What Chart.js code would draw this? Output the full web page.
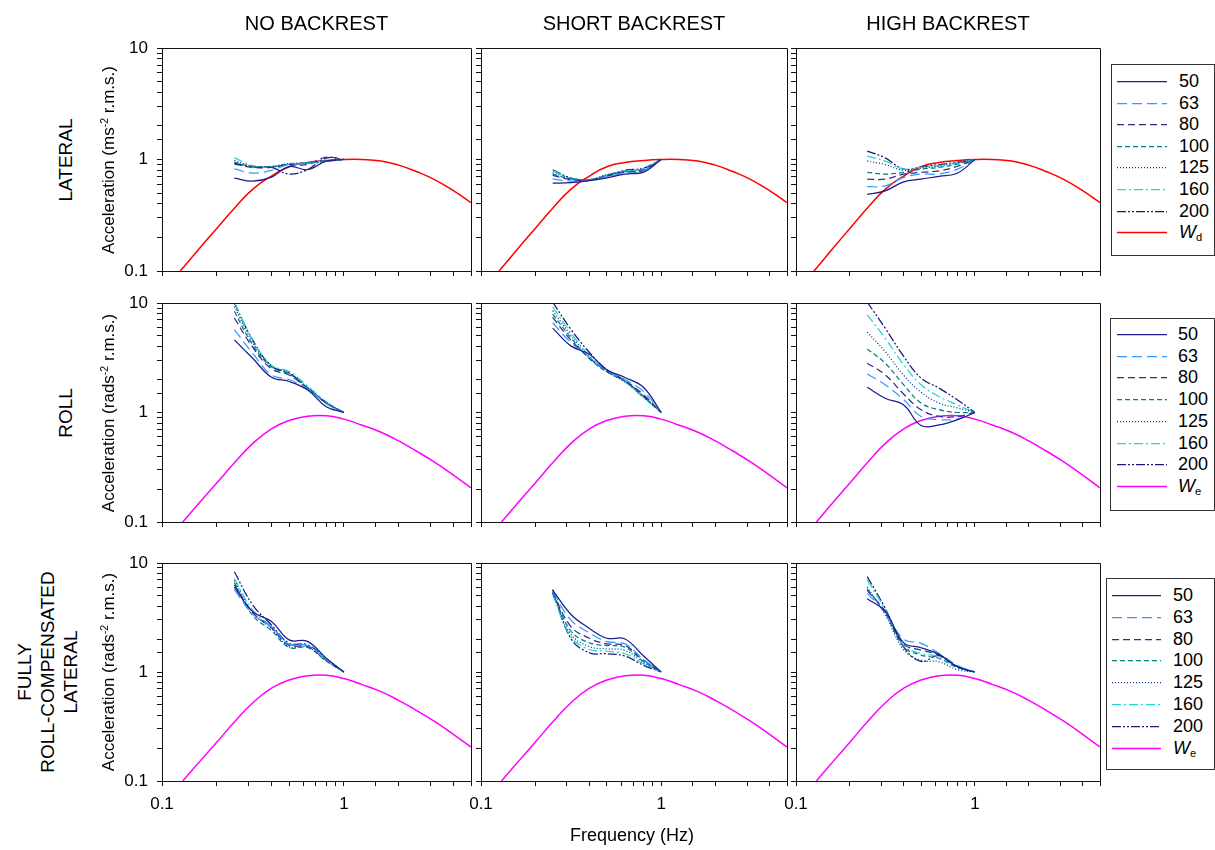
<!DOCTYPE html>
<html>
<head>
<meta charset="utf-8">
<script src="https://cdn.jsdelivr.net/npm/chart.js@4.4.1/dist/chart.umd.min.js"></script>
<style>
  body { margin: 0; background: #fff; font-family: "Liberation Sans", Arial, sans-serif; }
  #fig { position: relative; width: 1215px; height: 850px; overflow: hidden; }
  canvas { position: absolute; }
  .t { position: absolute; white-space: nowrap; color: #000; line-height: 1; }
  .c { transform: translate(-50%, -50%); text-align: center; }
  .rot { transform: translate(-50%, -50%) rotate(-90deg); text-align: center; }
  .leg { position: absolute; border: 1px solid #333; background: #fff; }
  sup { font-size: 62%; vertical-align: 0.55em; line-height: 0; }
  sub { font-size: 62%; vertical-align: -0.25em; line-height: 0; }
</style>
</head>
<body>
<div id="fig"></div>
<script>
// measured frequencies (Hz), velocities = legend entries
const freq = [0.25, 0.315, 0.4, 0.5, 0.63, 0.8, 1.0];
const velocities = ["50", "63", "80", "100", "125", "160", "200"];

// frequency weightings
const wdFreq = [0.126, 0.16, 0.2, 0.25, 0.315, 0.4, 0.5, 0.63, 0.8, 1, 1.25, 1.6, 2, 2.5, 3.15, 4, 5];
const wdValues = [0.1, 0.158, 0.241, 0.366, 0.54, 0.71, 0.86, 0.94, 0.98, 1.0, 1.0, 0.97, 0.89, 0.78, 0.66, 0.525, 0.41];
const weFreq = [0.13, 0.16, 0.2, 0.25, 0.315, 0.4, 0.5, 0.63, 0.8, 1, 1.25, 1.6, 2, 2.5, 3.15, 4, 5];
const weValues = [0.1, 0.149, 0.227, 0.347, 0.52, 0.71, 0.845, 0.925, 0.935, 0.87, 0.77, 0.66, 0.55, 0.445, 0.352, 0.268, 0.205];

const xTickLabels = [0.1, 1];
const yTickLabels = [0.1, 1, 10];
const columnTitles = ["NO BACKREST", "SHORT BACKREST", "HIGH BACKREST"];

// one row per velocity (50 ... 200), one value per frequency
const lateralNone = [
  [0.68, 0.64, 0.695, 0.865, 0.81, 0.966, 1.0],
  [0.825, 0.755, 0.80, 0.90, 0.92, 0.96, 1.0],
  [0.91, 0.85, 0.85, 0.90, 0.90, 1.05, 1.0],
  [0.95, 0.86, 0.86, 0.91, 0.93, 0.97, 1.0],
  [0.98, 0.87, 0.87, 0.92, 0.93, 0.96, 1.0],
  [1.035, 0.88, 0.86, 0.91, 0.94, 0.97, 1.0],
  [0.93, 0.86, 0.85, 0.74, 0.81, 1.03, 1.0]
];
const lateralShort = [
  [0.614, 0.62, 0.645, 0.685, 0.74, 0.77, 1.0],
  [0.67, 0.64, 0.65, 0.70, 0.76, 0.79, 1.0],
  [0.72, 0.66, 0.65, 0.71, 0.77, 0.80, 1.0],
  [0.74, 0.67, 0.655, 0.72, 0.78, 0.81, 1.0],
  [0.76, 0.675, 0.66, 0.73, 0.78, 0.82, 1.0],
  [0.79, 0.68, 0.66, 0.73, 0.79, 0.83, 1.0],
  [0.81, 0.685, 0.655, 0.72, 0.80, 0.84, 1.0]
];
const lateralHigh = [
  [0.487, 0.523, 0.63, 0.667, 0.705, 0.757, 1.0],
  [0.57, 0.58, 0.69, 0.74, 0.74, 0.82, 1.0],
  [0.667, 0.667, 0.74, 0.767, 0.79, 0.87, 1.0],
  [0.767, 0.74, 0.767, 0.82, 0.85, 0.91, 1.0],
  [0.97, 0.90, 0.80, 0.835, 0.87, 0.93, 1.0],
  [1.07, 0.966, 0.82, 0.85, 0.885, 0.94, 1.0],
  [1.19, 1.035, 0.82, 0.86, 0.90, 0.946, 1.0]
];
const rollNone = [
  [4.6, 3.13, 2.1, 1.92, 1.61, 1.13, 1.0],
  [5.7, 3.48, 2.2, 2.0, 1.65, 1.2, 1.0],
  [7.3, 3.95, 2.5, 2.2, 1.66, 1.22, 1.0],
  [8.4, 4.15, 2.6, 2.25, 1.68, 1.23, 1.0],
  [9.3, 4.35, 2.65, 2.3, 1.7, 1.24, 1.0],
  [10.2, 4.6, 2.7, 2.37, 1.75, 1.25, 1.0],
  [10.0, 4.6, 2.65, 2.3, 1.68, 1.22, 1.0]
];
const rollShort = [
  [5.9, 4.06, 3.4, 2.45, 2.09, 1.69, 1.0],
  [6.6, 4.36, 3.2, 2.4, 2.0, 1.55, 1.0],
  [7.4, 4.6, 3.15, 2.38, 1.95, 1.45, 1.0],
  [7.9, 4.84, 3.1, 2.35, 1.92, 1.40, 1.0],
  [8.5, 5.1, 3.2, 2.35, 1.9, 1.38, 1.0],
  [9.2, 5.37, 3.3, 2.4, 1.92, 1.36, 1.0],
  [10.2, 5.77, 3.53, 2.45, 1.95, 1.4, 1.0]
];
const rollHigh = [
  [1.70, 1.35, 1.17, 0.76, 0.77, 0.86, 1.0],
  [2.25, 1.79, 1.31, 0.92, 0.86, 0.875, 1.0],
  [2.82, 2.21, 1.47, 1.06, 0.92, 0.92, 1.0],
  [3.81, 2.82, 1.79, 1.22, 1.06, 1.0, 1.0],
  [5.42, 3.6, 2.18, 1.53, 1.22, 1.10, 1.0],
  [7.8, 4.77, 2.73, 1.79, 1.40, 1.17, 1.0],
  [10.2, 5.89, 3.25, 2.06, 1.67, 1.30, 1.0]
];
const compNone = [
  [6.0, 3.59, 2.9, 1.97, 1.91, 1.34, 1.0],
  [5.7, 3.4, 2.6, 1.8, 1.75, 1.3, 1.0],
  [6.3, 3.5, 2.55, 1.75, 1.72, 1.28, 1.0],
  [6.6, 3.3, 2.4, 1.68, 1.68, 1.26, 1.0],
  [6.9, 3.5, 2.5, 1.7, 1.70, 1.27, 1.0],
  [7.2, 3.7, 2.6, 1.8, 1.75, 1.3, 1.0],
  [8.3, 4.13, 2.7, 1.84, 1.78, 1.32, 1.0]
];
const compShort = [
  [5.64, 3.39, 2.51, 2.04, 2.01, 1.40, 1.0],
  [5.49, 3.01, 2.28, 1.90, 1.81, 1.30, 1.0],
  [5.41, 2.62, 2.04, 1.81, 1.75, 1.28, 1.0],
  [5.34, 2.39, 1.85, 1.75, 1.69, 1.25, 1.0],
  [5.27, 2.23, 1.71, 1.63, 1.58, 1.22, 1.0],
  [5.15, 2.12, 1.61, 1.55, 1.47, 1.19, 1.0],
  [5.72, 2.04, 1.50, 1.47, 1.40, 1.15, 1.0]
];
const compHigh = [
  [4.7, 3.59, 1.85, 1.67, 1.45, 1.12, 1.0],
  [5.3, 3.5, 2.0, 1.83, 1.48, 1.15, 1.0],
  [5.6, 3.6, 1.8, 1.59, 1.43, 1.12, 1.0],
  [5.8, 3.45, 1.7, 1.43, 1.33, 1.10, 1.0],
  [6.0, 3.35, 1.6, 1.28, 1.24, 1.05, 1.0],
  [7.0, 3.75, 1.75, 1.48, 1.38, 1.12, 1.0],
  [7.5, 3.85, 1.70, 1.25, 1.41, 1.10, 1.0]
];

// line styles per velocity
const seriesStyles = [
  { color: "#1c1c8c", dash: [] },
  { color: "#3399ff", dash: [10, 5] },
  { color: "#2e2e90", dash: [7, 4] },
  { color: "#008080", dash: [5, 3] },
  { color: "#003399", dash: [1, 2] },
  { color: "#22d6d6", dash: [9, 3, 2, 3] },
  { color: "#1a1a7a", dash: [9, 2, 2, 2, 2, 2] }
];

const rows = [
  { panels: [lateralNone, lateralShort, lateralHigh], wf: wdFreq, w: wdValues, wColor: "#ff0000", wSub: "d",
    yTitle: "Acceleration (ms<sup>-2</sup> r.m.s.)", label: "LATERAL" },
  { panels: [rollNone, rollShort, rollHigh], wf: weFreq, w: weValues, wColor: "#ff00ff", wSub: "e",
    yTitle: "Acceleration (rads<sup>-2</sup> r.m.s.)", label: "ROLL" },
  { panels: [compNone, compShort, compHigh], wf: weFreq, w: weValues, wColor: "#ff00ff", wSub: "e",
    yTitle: "Acceleration (rads<sup>-2</sup> r.m.s.)", label: "FULLY<br>ROLL-COMPENSATED<br>LATERAL" }
];

// layout (px)
const colEdges = [[162, 471], [481, 787], [796, 1100]];
const rowEdges = [[48, 271], [303, 522], [563, 781]];
const legendBoxes = [
  { x: 1111, y: 64, w: 102, h: 190, first: 81, step: 21.6, lx: 1117, lw: 50, tx: 1179 },
  { x: 1110, y: 318, w: 103, h: 191, first: 334, step: 21.7, lx: 1117, lw: 50, tx: 1178 },
  { x: 1106, y: 578, w: 107, h: 190, first: 595, step: 21.8, lx: 1112, lw: 49, tx: 1173 }
];

const fig = document.getElementById("fig");

function addText(html, x, y, cls, size, extra) {
  const d = document.createElement("div");
  d.className = "t " + cls;
  d.innerHTML = html;
  d.style.left = x + "px";
  d.style.top = y + "px";
  d.style.fontSize = size + "px";
  if (extra) Object.assign(d.style, extra);
  fig.appendChild(d);
  return d;
}

function align(p) { return Math.round(p - 0.5) + 0.5; }

const framePlugin = {
  id: "frame",
  afterDraw(chart) {
    const { ctx, chartArea: a } = chart;
    ctx.save();
    ctx.strokeStyle = "#111";
    ctx.lineWidth = 1;
    ctx.beginPath();
    ctx.moveTo(align(a.left), align(a.top));
    ctx.lineTo(align(a.right), align(a.top));
    ctx.lineTo(align(a.right), align(a.bottom));
    ctx.stroke();
    ctx.restore();
  }
};

function matchTick(list, v) {
  const t = list.find(t => Math.abs(t - v) / t < 1e-6);
  return t === undefined ? "" : String(t);
}

function makePanel(r, c) {
  const row = rows[r];
  const [L, R] = colEdges[c];
  const [T, B] = rowEdges[r];
  const padL = 45, padT = 26, padR = 12, padB = 32;
  const cv = document.createElement("canvas");
  cv.width = R - L + padL + padR;
  cv.height = B - T + padT + padB;
  cv.style.left = (L - padL) + "px";
  cv.style.top = (T - padT) + "px";
  fig.appendChild(cv);

  const datasets = row.panels[c].map((vals, i) => ({
    label: velocities[i],
    data: freq.map((f, j) => ({ x: f, y: vals[j] })),
    borderColor: seriesStyles[i].color,
    borderDash: seriesStyles[i].dash,
    borderWidth: 1.25,
    pointRadius: 0,
    tension: 0.4,
    fill: false
  }));
  datasets.push({
    label: "W" + row.wSub,
    data: row.wf.map((f, j) => ({ x: f, y: row.w[j] })),
    borderColor: row.wColor,
    borderWidth: 1.5,
    pointRadius: 0,
    tension: 0.5,
    fill: false
  });

  const font = { family: "'Liberation Sans', Arial, sans-serif", size: 17 };
  new Chart(cv, {
    type: "line",
    data: { datasets },
    options: {
      responsive: false,
      animation: false,
      events: [],
      layout: { padding: { left: 0, top: padT, right: padR, bottom: 0 } },
      plugins: { legend: { display: false }, tooltip: { enabled: false } },
      scales: {
        x: {
          type: "logarithmic",
          min: 0.1, max: 5,
          border: { display: true, color: "#111", width: 1 },
          grid: { display: true, drawOnChartArea: false, drawTicks: true, tickLength: 5, tickColor: "#111" },
          ticks: {
            display: r === 2, autoSkip: false, maxRotation: 0, padding: 8,
            color: "#000", font,
            callback: v => matchTick(xTickLabels, v)
          },
          afterFit: s => { s.height = padB; }
        },
        y: {
          type: "logarithmic",
          min: 0.1, max: 10,
          border: { display: true, color: "#111", width: 1 },
          grid: { display: true, drawOnChartArea: false, drawTicks: true, tickLength: 5, tickColor: "#111" },
          ticks: {
            display: c === 0, autoSkip: false, padding: 9,
            color: "#000", font,
            callback: v => matchTick(yTickLabels, v)
          },
          afterFit: s => { s.width = padL; }
        }
      }
    },
    plugins: [framePlugin]
  });
}

for (let r = 0; r < 3; r++) {
  for (let c = 0; c < 3; c++) makePanel(r, c);
}

// column titles
columnTitles.forEach((t, c) => {
  addText(t, (colEdges[c][0] + colEdges[c][1]) / 2, 23, "c", 20);
});

// row labels and y titles
rows.forEach((row, r) => {
  const cy = (rowEdges[r][0] + rowEdges[r][1]) / 2;
  const lx = r === 2 ? 47 : 65;
  addText(row.label, lx, cy, "rot", 19, { lineHeight: "23px" });
  addText(row.yTitle, 108, cy, "rot", 17);
});

addText("Frequency (Hz)", 632, 835, "c", 18);

// legends
legendBoxes.forEach((b, r) => {
  const box = document.createElement("div");
  box.className = "leg";
  Object.assign(box.style, { left: b.x + "px", top: b.y + "px", width: b.w + "px", height: b.h + "px" });
  fig.appendChild(box);
  const entries = velocities.map((v, i) => ({ text: v, color: seriesStyles[i].color, dash: seriesStyles[i].dash, w: 1.25 }));
  entries.push({ text: "<i>W</i><sub>" + rows[r].wSub + "</sub>", color: rows[r].wColor, dash: [], w: 1.5 });
  entries.forEach((e, i) => {
    const y = b.first + i * b.step;
    const svg = document.createElementNS("http://www.w3.org/2000/svg", "svg");
    svg.setAttribute("width", b.lw);
    svg.setAttribute("height", 4);
    svg.style.position = "absolute";
    svg.style.left = b.lx + "px";
    svg.style.top = (Math.round(y) - 2) + "px";
    const ln = document.createElementNS("http://www.w3.org/2000/svg", "line");
    ln.setAttribute("x1", 0); ln.setAttribute("x2", b.lw);
    ln.setAttribute("y1", 2.5); ln.setAttribute("y2", 2.5);
    ln.setAttribute("stroke", e.color);
    ln.setAttribute("stroke-width", e.w);
    if (e.dash.length) ln.setAttribute("stroke-dasharray", e.dash.join(","));
    svg.appendChild(ln);
    fig.appendChild(svg);
    addText(e.text, b.tx, y, "", 18, { transform: "translateY(-50%)" });
  });
});
</script>
</body>
</html>
